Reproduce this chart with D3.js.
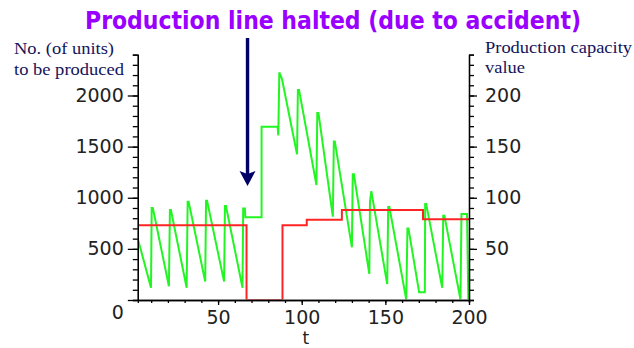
<!DOCTYPE html>
<html>
<head>
<meta charset="utf-8">
<script src="https://cdnjs.cloudflare.com/ajax/libs/d3/7.8.5/d3.min.js"></script>
<style>
  body { margin: 0; background: #fff; }
  .tick text { font-family: "DejaVu Sans", sans-serif; font-size: 19px; fill: #222; }
  .axis path, .axis line { stroke: #000; stroke-width: 1.3; }
  .note { font-family: "Liberation Serif", "Times New Roman", serif; font-size: 17px; fill: #14145a; }
</style>
</head>
<body>
<div class="chart"></div>
<script>
// chart data
var capacityT = [2, 67, 67, 88.5, 88.5, 103, 103, 124, 124, 172.5, 172.5, 200];
var capacity = [73, 73, 0, 0, 73, 73, 78.5, 78.5, 88, 88, 79, 79];

var unitsT = [2, 9.9, 10.3, 11, 20.6, 21.2, 21.8, 31.2, 31.8, 32.4, 42.3, 42.8, 43.4,
  53.6, 54.1, 54.7, 64.6, 65, 66, 66.3, 76, 76, 85.6, 86, 86.6, 88.2, 97.2, 97.7, 98.4,
  108.8, 109.3, 110, 118.6, 119.2, 119.8, 130, 130.5, 131.2, 140.4, 140.8, 141.6,
  151.1, 151.7, 152.4, 162.5, 163.2, 163.8, 170.2, 173.6, 173.8, 174.4, 184, 184.6, 185.3,
  194.9, 195.5, 198.8, 199.6];
var units = [600, 120, 900, 900, 135, 880, 880, 120, 960, 960, 180, 970, 970,
  180, 920, 920, 120, 895, 895, 810, 810, 1695, 1695, 1610, 2225, 2160, 1425, 2055, 2055,
  1125, 1830, 1830, 815, 1550, 1550, 515, 1230, 1230, 255, 960, 1065,
  156, 910, 910, 5, 700, 700, 75, 75, 940, 940, 120, 825, 825,
  5, 840, 840, 5];

var leftTicks = [0, 500, 1000, 1500, 2000];
var rightTicks = [50, 100, 150, 200];
var bottomTicks = [50, 100, 150, 200];

var titleText = "Production line halted (due to accident)";
var leftLabel = ["No. (of units)", "to be produced"];
var rightLabel = ["Production capacity", "value"];
var haltT = 67.6;

var svgWidth = 634;
var svgHeight = 348;

var svg = d3.select(".chart")
  .append("svg")
  .attr("width", svgWidth)
  .attr("height", svgHeight)
  .style("display", "block");

// scales
var xScale = d3.scaleLinear().domain([2, 200]).range([137.8, 469]);
var yLeft = d3.scaleLinear().domain([0, 2400]).range([300, 54.6]);
var yRight = d3.scaleLinear().domain([0, 240]).range([300, 54.6]);

// keep the lines inside the plot, the zero level hides under the axis
svg.append("clipPath")
  .attr("id", "plot-clip")
  .append("rect")
  .attr("x", xScale.range()[0])
  .attr("y", 40)
  .attr("width", xScale.range()[1] - xScale.range()[0] + 2)
  .attr("height", yLeft.range()[0] - 40 - 0.5);

var unitLine = d3.line()
  .x(function(d, i) { return xScale(unitsT[i]); })
  .y(function(d) { return yLeft(d); });
var capLine = d3.line()
  .x(function(d, i) { return xScale(capacityT[i]); })
  .y(function(d) { return yRight(d); });

var plot = svg.append("g").attr("clip-path", "url(#plot-clip)");

plot.append("path")
  .datum(units)
  .attr("d", unitLine)
  .attr("fill", "none")
  .attr("stroke", "#22f522")
  .attr("stroke-width", 2);

plot.append("path")
  .datum(capacity)
  .attr("d", capLine)
  .attr("fill", "none")
  .attr("stroke", "#ff2424")
  .attr("stroke-width", 2);

// minor ticks
svg.append("g").attr("class", "axis")
  .attr("transform", "translate(" + xScale.range()[0] + ",0)")
  .call(d3.axisLeft(yLeft).tickValues(d3.range(0, 2401, 100)).tickSize(5).tickFormat(""));
svg.append("g").attr("class", "axis")
  .attr("transform", "translate(" + xScale.range()[1] + ",0)")
  .call(d3.axisRight(yRight).tickValues(d3.range(0, 241, 10)).tickSize(5).tickFormat(""));
svg.append("g").attr("class", "axis")
  .attr("transform", "translate(0," + yLeft.range()[0] + ")")
  .call(d3.axisBottom(xScale).tickValues(d3.range(10, 201, 10)).tickSize(3).tickFormat(""));

// major ticks + labels
var fmt = d3.format("d");
var leftAxis = svg.append("g").attr("class", "axis")
  .attr("transform", "translate(" + xScale.range()[0] + ",0)")
  .call(d3.axisLeft(yLeft).tickValues(leftTicks).tickFormat(fmt)
    .tickSize(10).tickPadding(4).tickSizeOuter(0));
leftAxis.selectAll(".tick text")
  .filter(function(d) { return d === 0; })
  .attr("y", 12);

svg.append("g").attr("class", "axis")
  .attr("transform", "translate(" + xScale.range()[1] + ",0)")
  .call(d3.axisRight(yRight).tickValues(rightTicks).tickFormat(fmt)
    .tickSize(8).tickPadding(8).tickSizeOuter(0));

svg.append("g").attr("class", "axis")
  .attr("transform", "translate(0," + yLeft.range()[0] + ")")
  .call(d3.axisBottom(xScale).tickValues(bottomTicks).tickFormat(fmt)
    .tickSize(5).tickPadding(6).tickSizeOuter(0));

// x axis name
svg.append("text")
  .attr("x", xScale(100) + 4)
  .attr("y", 344)
  .attr("text-anchor", "middle")
  .style("font-family", "DejaVu Sans, sans-serif")
  .style("font-size", "17px")
  .style("fill", "#222")
  .text("t");

// axis captions
leftLabel.forEach(function(s, i) {
  svg.append("text")
    .attr("class", "note")
    .attr("x", 14)
    .attr("y", 54 + i * 21)
    .attr("textLength", i === 0 ? 100 : 110)
    .attr("lengthAdjust", "spacingAndGlyphs")
    .text(s);
});
rightLabel.forEach(function(s, i) {
  svg.append("text")
    .attr("class", "note")
    .attr("x", 485)
    .attr("y", 53 + i * 19.5)
    .attr("textLength", i === 0 ? 147 : 40)
    .attr("lengthAdjust", "spacingAndGlyphs")
    .text(s);
});

// title
svg.append("text")
  .attr("x", 333)
  .attr("y", 29)
  .attr("text-anchor", "middle")
  .attr("textLength", 496)
  .attr("lengthAdjust", "spacingAndGlyphs")
  .style("font-family", "DejaVu Sans, sans-serif")
  .style("font-weight", "bold")
  .style("font-size", "24px")
  .style("fill", "#9a00ff")
  .text(titleText);

// halt arrow
var ax = xScale(haltT);
svg.append("line")
  .attr("x1", ax).attr("x2", ax)
  .attr("y1", 38).attr("y2", 174)
  .attr("stroke", "#000066")
  .attr("stroke-width", 3.4);
svg.append("path")
  .attr("d", "M" + (ax - 8) + ",171 L" + ax + ",174 L" + (ax + 8) + ",171 L" + ax + ",186 Z")
  .attr("fill", "#000066");
</script>
</body>
</html>
